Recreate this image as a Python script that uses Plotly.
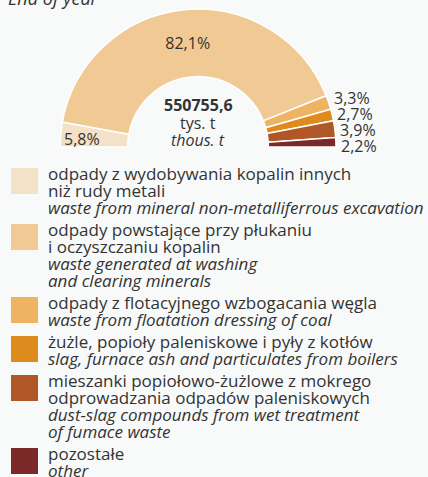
import math
import plotly.graph_objects as go

W, H = 428, 477

# ---- data ----
values = [5.8, 82.1, 3.3, 2.7, 3.9, 2.2]
colors = ["#f3e2c7", "#f0c994", "#efb461", "#df8a1c", "#af5726", "#7a2828"]
pl_lines = [
    ["odpady z wydobywania kopalin innych", "niż rudy metali"],
    ["odpady powstające przy płukaniu", "i oczyszczaniu kopalin"],
    ["odpady z flotacyjnego wzbogacania węgla"],
    ["żużle, popioły paleniskowe i pyły z kotłów"],
    ["mieszanki popiołowo-żużlowe z mokrego", "odprowadzania odpadów paleniskowych"],
    ["pozostałe"],
]
en_lines = [
    ["waste from mineral non-metalliferrous excavation"],
    ["waste generated at washing", "and clearing minerals"],
    ["waste from floatation dressing of coal"],
    ["slag, furnace ash and particulates from boilers"],
    ["dust-slag compounds from wet treatment", "of fumace waste"],
    ["other"],
]
total_value = "550755,6"
unit_pl = "tys. t"
unit_en = "thous. t"
title = "End of year"

FONT = "Open Sans"
TXT = "#333333"
BG = "#f8fafa"

def py(p):
    return 1 - p / H

def px(p):
    return p / W

def fmt(v):
    return f"{v:.1f}".replace(".", ",") + "%"

# half-donut: visible slices + transparent filler equal to the sum
tot = sum(values)
vals = values + [tot]
texts = [fmt(v) for v in values] + [""]
tpos = ["none", "inside", "none", "none", "none", "none", "none"]
mcolors = colors + ["rgba(0,0,0,0)"]
lwidths = [1.5] * len(values) + [0]

cx, cy, R = 198, 147, 138
HOLE = 0.51
fig = go.Figure()
fig.add_trace(go.Pie(
    values=vals,
    text=texts,
    texttemplate="%{text}",
    textposition=tpos,
    insidetextorientation="horizontal",
    sort=False,
    direction="clockwise",
    rotation=-90,
    hole=HOLE,
    marker=dict(colors=mcolors, line=dict(color="white", width=lwidths)),
    insidetextfont=dict(family=FONT, size=16, color=TXT),
    hoverinfo="skip",
    showlegend=False,
    domain=dict(x=[px(cx - R), px(cx + R)], y=[py(cy + R), py(cy - R)]),
))

ann = []
base = dict(xref="paper", yref="paper", showarrow=False)

# slice labels derived from the data (angles of the half-donut)
cum = 0
mids = []
for v in values:
    mids.append(math.radians(180 - (cum + v / 2) / tot * 180))
    cum += v
a0 = mids[0]
rmid = R * (1 + HOLE) / 2
ann.append(dict(base, x=px(cx + R * math.cos(a0) + 1), y=py(cy - rmid * math.sin(a0) + 1),
                xanchor="left", yanchor="middle", text=texts[0],
                font=dict(family=FONT, size=16, color=TXT)))
small = list(range(2, len(values)))
ys = [cy - (R + 2) * math.sin(mids[i]) for i in small]
ymean = sum(ys) / len(ys)
for j, i in enumerate(small):
    yy = ymean + (j - (len(small) - 1) / 2) * 16
    xx = cx + (R + 2) * math.cos(mids[i]) + 1
    ann.append(dict(base, x=px(xx), y=py(yy), xanchor="left", yanchor="middle",
                    text=texts[i], font=dict(family=FONT, size=16, color=TXT)))

# center text
for t, yy in [(f"<b>{total_value}</b>", 105), (unit_pl, 123), (f"<i>{unit_en}</i>", 140)]:
    ann.append(dict(base, x=px(cx), y=py(yy), xanchor="center", yanchor="middle", text=t,
                    font=dict(family=FONT, size=16, color=TXT)))

# title (partly cut off at top)
ann.append(dict(base, x=px(6), y=py(-1.5), xanchor="left", yanchor="middle",
                text=f"<i>{title}</i>", font=dict(family=FONT, size=18, color=TXT)))

# custom legend
shapes = []
top = 168
LS = 17
SQ = 26
for i, c in enumerate(colors):
    shapes.append(dict(type="rect", xref="paper", yref="paper",
                       x0=px(11), x1=px(38), y0=py(top), y1=py(top + SQ),
                       fillcolor=c, line=dict(width=0)))
    lines = [(t, False) for t in pl_lines[i]] + [(t, True) for t in en_lines[i]]
    for k, (t, it) in enumerate(lines):
        ann.append(dict(base, x=px(46), y=py(top + 5.5 + k * LS),
                        xanchor="left", yanchor="middle",
                        text=f"<i>{t}</i>" if it else t,
                        font=dict(family=FONT, size=17, color=TXT)))
    top += max(len(lines) * LS, SQ) + 5

fig.update_layout(
    width=W, height=H,
    margin=dict(l=0, r=0, t=0, b=0),
    paper_bgcolor=BG, plot_bgcolor=BG,
    annotations=ann, shapes=shapes,
    showlegend=False,
)
fig.write_html("out.html", config={"displayModeBar": False, "staticPlot": True},
               post_script="document.body.style.margin='0';")
